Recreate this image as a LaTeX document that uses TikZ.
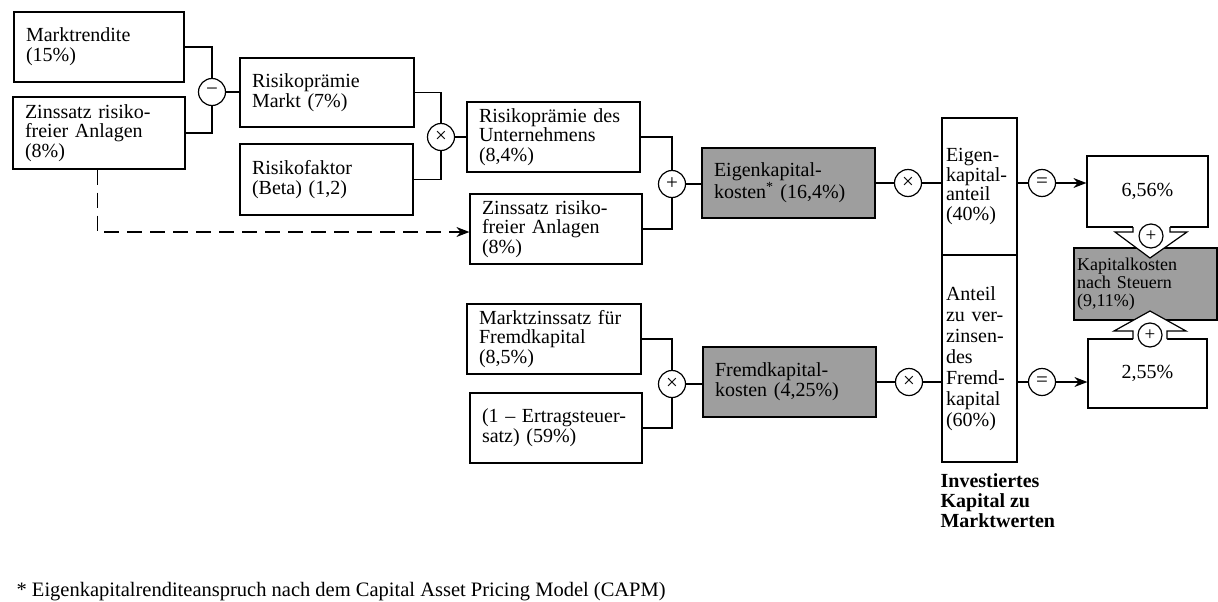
\documentclass[tikz,border=0pt]{standalone}
\usepackage{fontspec}
\setmainfont{Liberation Serif}
\usetikzlibrary{arrows.meta}
\definecolor{boxgray}{RGB}{158,158,158}
\begin{document}
\begin{tikzpicture}[x=1pt,y=-1pt,
  every path/.style={line width=1.2pt},
  box/.style={draw, align=left, inner xsep=12pt, inner ysep=0pt,
    font=\fontsize{20}{19.8}\selectfont},
  gbox/.style={box, fill=boxgray},
  colbox/.style={box, inner xsep=4pt, text width=67pt, minimum width=75pt},
  op/.style={draw, circle, minimum size=27pt, inner sep=0pt, fill=white,
    font=\fontsize{21}{21}\selectfont},
  smallop/.style={op, minimum size=24pt, font=\fontsize{19}{19}\selectfont},
  arr/.style={-{Stealth[length=13pt,width=10pt]}},
  dsh/.style={dash pattern=on 15pt off 8pt},
]
\useasboundingbox (0,0) rectangle (1218,602);

% --- equity cost branch
\node[box, minimum width=170pt, minimum height=70pt, text width=146pt] (mr) at (99,47)
  {Marktrendite\\(15\%)};
\node[box, minimum width=172pt, minimum height=72pt, text width=148pt] (zr) at (99,133)
  {Zinssatz risiko-\\freier Anlagen\\(8\%)};
\node[op] (minus) at (212,92) {−};
\node[box, minimum width=174pt, minimum height=69pt, text width=150pt] (rpm) at (327,92.5)
  {Risikoprämie\\Markt (7\%)};
\node[box, minimum width=173pt, minimum height=71pt, text width=149pt] (rf) at (326.5,179.5)
  {Risikofaktor\\(Beta) (1,2)};
\node[op] (mul1) at (441,137) {×};
\node[box, minimum width=173pt, minimum height=70pt, text width=149pt] (ru) at (553.5,137)
  {Risikoprämie des\\Unternehmens\\(8,4\%)};
\node[box, minimum width=172pt, minimum height=70pt, text width=148pt] (zr2) at (556,229)
  {Zinssatz risiko-\\freier Anlagen\\(8\%)};
\node[op] (plus1) at (672,184) {+};
\node[gbox, minimum width=173pt, minimum height=70pt, text width=149pt] (ek) at (788.5,183)
  {Eigenkapital-\\kosten\textsuperscript{*} (16,4\%)};
\node[op] (mul2) at (908,183) {×};

% --- debt cost branch
\node[box, minimum width=174pt, minimum height=70pt, text width=150pt] (mz) at (554,339)
  {Marktzinssatz für\\Fremdkapital\\(8,5\%)};
\node[box, minimum width=172pt, minimum height=70pt, text width=148pt] (er) at (556,428)
  {(1 – Ertragsteuer-\\satz) (59\%)};
\node[op] (mul3) at (672,384) {×};
\node[gbox, minimum width=173pt, minimum height=70pt, text width=149pt] (fk) at (789.5,382)
  {Fremdkapital-\\kosten (4,25\%)};
\node[op] (mul4) at (909,382) {×};

% --- capital structure column
\node[colbox, minimum height=137pt] (ekan) at (979.5,186.5)
  {Eigen-\\kapital-\\anteil\\(40\%)};
\node[colbox, minimum height=207pt, font=\fontsize{20}{21}\selectfont] (fkan) at (979.5,358.5)
  {Anteil\\zu ver-\\zinsen-\\des\\Fremd-\\kapital\\(60\%)};
\node[anchor=north west, align=left, inner sep=0pt,
  font=\fontsize{20}{20}\selectfont\bfseries] (inv) at (940,473)
  {Investiertes\\Kapital zu\\Marktwerten};

\node[op] (eq1) at (1042,183) {=};
\node[op] (eq2) at (1042,382) {=};

% --- results
\node[box, align=center, minimum width=121pt, minimum height=71pt] (r656) at (1147.5,191.5) {6,56\%};
\node[box, align=center, minimum width=119pt, minimum height=69pt] (r255) at (1147.5,373.5) {2,55\%};
\node[gbox, inner xsep=3pt, minimum width=143pt, minimum height=72pt, text width=137pt,
  font=\fontsize{18}{18}\selectfont] (kk) at (1145.5,284)
  {Kapitalkosten\\nach Steuern\\(9,11\%)};

% hollow block arrows into the total
\fill[white] (1133,226) -- (1133,232) -- (1115,232) -- (1150,258) -- (1187,232) -- (1170,232) -- (1170,226) -- cycle;
\draw (1133,227) -- (1133,232) -- (1115,232) -- (1150,258) -- (1187,232) -- (1170,232) -- (1170,227);
\fill[white] (1133,340) -- (1133,331) -- (1114,331) -- (1150,311) -- (1186,331) -- (1167,331) -- (1167,340) -- cycle;
\draw (1133,339) -- (1133,331) -- (1114,331) -- (1150,311) -- (1186,331) -- (1167,331) -- (1167,339);
\node[smallop] (pl2) at (1151,236) {+};
\node[smallop] (pl3) at (1150,335) {+};

% --- connectors
\draw (mr.east) -| (minus.north);
\draw (zr.east) -| (minus.south);
\draw (minus.east) -- (minus.east -| rpm.west);
\draw (rpm.east) -| (mul1.north);
\draw (rf.east) -| (mul1.south);
\draw (mul1.east) -- (mul1.east -| ru.west);
\draw (ru.east) -| (plus1.north);
\draw (zr2.east) -| (plus1.south);
\draw (plus1.east) -- (plus1.east -| ek.west);
\draw (ek.east |- mul2) -- (mul2.west);
\draw (mul2.east) -- (mul2.east -| ekan.west);
\draw (eq1.west -| ekan.east) -- (eq1.west);
\draw[arr] (eq1.east) -- (eq1.east -| r656.west);
\draw[dsh, arr] ([xshift=85pt]zr.south west) |- ([yshift=-3pt]zr2.west);

\draw (mz.east) -| (mul3.north);
\draw (er.east) -| (mul3.south);
\draw (mul3.east) -- (mul3.east -| fk.west);
\draw (fk.east |- mul4) -- (mul4.west);
\draw (mul4.east) -- (mul4.east -| fkan.west);
\draw (eq2.west -| fkan.east) -- (eq2.west);
\draw[arr] (eq2.east) -- (eq2.east -| r255.west);

% --- footnote
\node[anchor=base west, inner sep=0pt, font=\fontsize{20.5}{21}\selectfont] (fn) at (16,596)
  {* Eigenkapitalrenditeanspruch nach dem Capital Asset Pricing Model (CAPM)};
\end{tikzpicture}
\end{document}
